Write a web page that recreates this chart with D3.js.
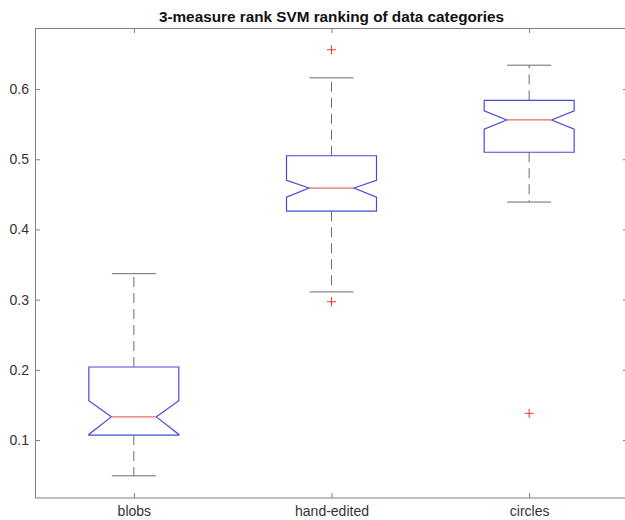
<!DOCTYPE html>
<html>
<head>
<meta charset="utf-8">
<script src="https://cdn.jsdelivr.net/npm/d3@7"></script>
<style>
	body { margin: 0; background: #fff; }
	svg { display: block; font-family: "Liberation Sans", Arial, sans-serif; }
</style>
</head>
<body>
<div id="chart"></div>
<script>
var WIDTH = 625;
var HEIGHT = 520;

// values
var categories = ["blobs", "hand-edited", "circles"];
var whiskerLo = [0.049, 0.311, 0.439];
var q1 = [0.107, 0.426, 0.510];
var notchLo = [0.108, 0.446, 0.543];
var medians = [0.133, 0.459, 0.556];
var notchHi = [0.156, 0.470, 0.569];
var q3 = [0.204, 0.505, 0.584];
var whiskerHi = [0.337, 0.616, 0.634];
var outliers = [[], [0.656, 0.297], [0.138]];
var yTicks = [0.1, 0.2, 0.3, 0.4, 0.5, 0.6];
var title = "3-measure rank SVM ranking of data categories";

var margin = { top: 28, right: -3, bottom: 22, left: 35 };
var plotW = WIDTH - margin.left - margin.right;
var plotH = HEIGHT - margin.top - margin.bottom;

var svg = d3.select("#chart").append("svg")
	.attr("width", WIDTH).attr("height", HEIGHT);

var g = svg.append("g")
	.attr("transform", `translate(${margin.left},${margin.top})`);

// scales
var x = d3.scaleLinear().domain([0.5, 3.5]).range([0, plotW]);
var y = d3.scaleLinear().domain([0.0174, 0.687]).range([plotH, 0]);

var halfW = 45, capW = 22;
var boxColor = "#4a4ad8", medColor = "#f06a6a", whiskColor = "#6b6b6b";

// axes, ticks pointing inward like matlab
var catTicks = categories.map((c, i) => i + 1);
var fmt = d => categories[d - 1];

g.append("g").attr("transform", `translate(0,${plotH})`)
	.call(d3.axisBottom(x).tickValues(catTicks).tickFormat(fmt).tickSize(-5).tickSizeOuter(0).tickPadding(8));
g.append("g")
	.call(d3.axisTop(x).tickValues(catTicks).tickFormat("").tickSize(-5).tickSizeOuter(0));
g.append("g")
	.call(d3.axisLeft(y).tickValues(yTicks).tickFormat(d3.format(".1f")).tickSize(-5).tickSizeOuter(0).tickPadding(6));
g.append("g").attr("transform", `translate(${plotW},0)`)
	.call(d3.axisRight(y).tickValues(yTicks).tickFormat("").tickSize(-5).tickSizeOuter(0));

g.selectAll(".domain").remove();
g.selectAll(".tick line").attr("stroke", "#808080");
g.selectAll(".tick text").attr("fill", "#333").style("font-size", "14px");

g.append("rect")
	.attr("x", 0.5).attr("y", 0.5)
	.attr("width", plotW).attr("height", plotH - 0.5)
	.attr("fill", "none").attr("stroke", "#808080");

// boxes
var boxes = g.selectAll(".box")
	.data(categories.map((c, i) => ({
		i: i, lo: whiskerLo[i], q1: q1[i], nLo: notchLo[i], med: medians[i],
		nHi: notchHi[i], q3: q3[i], hi: whiskerHi[i], out: outliers[i]
	})))
	.enter().append("g").attr("class", "box");

// whiskers
boxes.append("line")
	.attr("x1", d => x(d.i + 1)).attr("x2", d => x(d.i + 1))
	.attr("y1", d => y(d.q3)).attr("y2", d => y(d.hi))
	.attr("stroke", whiskColor).attr("stroke-dasharray", "10,6");
boxes.append("line")
	.attr("x1", d => x(d.i + 1)).attr("x2", d => x(d.i + 1))
	.attr("y1", d => y(d.q1)).attr("y2", d => y(d.lo))
	.attr("stroke", whiskColor).attr("stroke-dasharray", "10,6");

// caps
["hi", "lo"].forEach(k => {
	boxes.append("line")
		.attr("x1", d => x(d.i + 1) - capW).attr("x2", d => x(d.i + 1) + capW)
		.attr("y1", d => y(d[k])).attr("y2", d => y(d[k]))
		.attr("stroke", whiskColor);
});

// notched box
boxes.append("path")
	.attr("d", d => {
		var cx = x(d.i + 1);
		var pts = [
			[cx - halfW, y(d.q3)], [cx + halfW, y(d.q3)], [cx + halfW, y(d.nHi)],
			[cx + halfW / 2, y(d.med)], [cx + halfW, y(d.nLo)], [cx + halfW, y(d.q1)],
			[cx - halfW, y(d.q1)], [cx - halfW, y(d.nLo)], [cx - halfW / 2, y(d.med)],
			[cx - halfW, y(d.nHi)]
		];
		return d3.line()(pts) + "Z";
	})
	.attr("fill", "none").attr("stroke", boxColor).attr("stroke-width", 1.2);

// median
boxes.append("line")
	.attr("x1", d => x(d.i + 1) - halfW / 2).attr("x2", d => x(d.i + 1) + halfW / 2)
	.attr("y1", d => y(d.med)).attr("y2", d => y(d.med))
	.attr("stroke", medColor).attr("stroke-width", 1.2);

// outliers as red plus signs
boxes.selectAll(".out")
	.data(d => d.out.map(v => ({ i: d.i, v: v })))
	.enter().append("path")
	.attr("class", "out")
	.attr("d", d => {
		var cx = x(d.i + 1), cy = y(d.v);
		return `M${cx - 4.5},${cy}H${cx + 4.5}M${cx},${cy - 4.5}V${cy + 4.5}`;
	})
	.attr("stroke", "#ff3030").attr("fill", "none");

// title
svg.append("text")
	.attr("x", margin.left + plotW / 2)
	.attr("y", 22)
	.attr("text-anchor", "middle")
	.style("font-size", "15.3px")
	.style("font-weight", "bold")
	.attr("fill", "#111")
	.text(title);
</script>
</body>
</html>
